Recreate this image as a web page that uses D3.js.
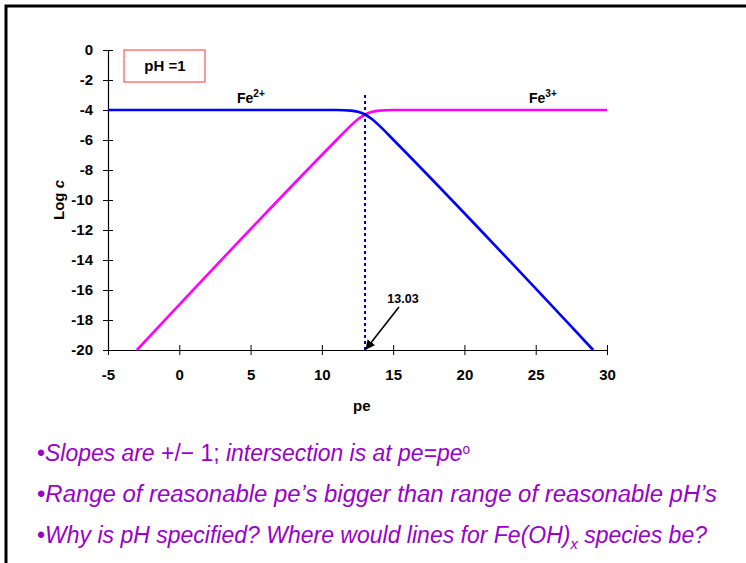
<!DOCTYPE html>
<html><head><meta charset="utf-8">
<script src="https://cdn.jsdelivr.net/npm/d3@7"></script>
<style>
html,body{margin:0;padding:0;background:#fff;}
svg{display:block;font-family:Arial,"Liberation Sans",sans-serif;}
</style></head>
<body>
<div id="chart"></div>
<script>
// ---- data ----
const fe2pe  = [-5, 11.03, 12.03, 12.53, 13.03, 13.53, 14.03, 15.03, 29.03];
const fe2log = [-4, -4.0, -4.04, -4.12, -4.30, -4.62, -5.04, -6.0, -20];
const fe3pe  = [-2.97, 11.03, 12.03, 12.53, 13.03, 13.53, 14.03, 15.03, 30];
const fe3log = [-20, -6.0, -5.04, -4.62, -4.30, -4.12, -4.04, -4.0, -4];
const peIntersect = 13.03;
const xTicks = [-5, 0, 5, 10, 15, 20, 25, 30];
const yTicks = [0, -2, -4, -6, -8, -10, -12, -14, -16, -18, -20];

const W = 746, H = 563;
const FONT = "Arial, 'Liberation Sans', sans-serif";
const svg = d3.select("#chart").append("svg").attr("width", W).attr("height", H);

// frame
svg.append("rect").attr("x", 6).attr("y", 6).attr("width", 800).attr("height", 600)
  .attr("fill", "none").attr("stroke", "#000").attr("stroke-width", 3);

const x = d3.scaleLinear().domain([-5, 30]).range([108, 607]);
const y = d3.scaleLinear().domain([-20, 0]).range([350, 50]);

// x axis
const gx = svg.append("g").attr("transform", `translate(0,${y(-20)})`)
  .call(d3.axisBottom(x).tickValues(xTicks).tickSizeInner(5).tickSizeOuter(0).tickPadding(14));
gx.selectAll(".tick line").attr("y1", -5).attr("y2", 5);
// y axis
const gy = svg.append("g").attr("transform", `translate(${x(-5)},0)`)
  .call(d3.axisLeft(y).tickValues(yTicks).tickSizeInner(5).tickSizeOuter(0).tickPadding(10));
gy.selectAll(".tick line").attr("x1", -5).attr("x2", 5);
[gx, gy].forEach(g => {
  g.attr("font-size", 15).attr("font-family", FONT);
  g.selectAll("path.domain").attr("stroke", "#000").attr("stroke-width", 1.2);
  g.selectAll(".tick line").attr("stroke", "#000").attr("stroke-width", 1);
  g.selectAll("text").attr("font-size", 15).attr("font-weight", "bold").attr("fill", "#000")
    .text(d => d < 0 ? "-" + Math.abs(d) : String(d));
});

// axis titles
svg.append("text").attr("x", x(12.8)).attr("y", 411).attr("text-anchor", "middle")
  .attr("font-size", 15).attr("font-weight", "bold").text("pe");
const yl = svg.append("text").attr("transform", `translate(64,${y(-10)}) rotate(-90)`)
  .attr("text-anchor", "middle").attr("font-size", 15).attr("font-weight", "bold");
yl.append("tspan").text("Log ");
yl.append("tspan").attr("font-style", "italic").text("c");

// lines
const line = d3.line().x(d => x(d[0])).y(d => y(d[1])).curve(d3.curveMonotoneX);
svg.append("path").datum(d3.zip(fe3pe, fe3log)).attr("d", line)
  .attr("fill", "none").attr("stroke", "#ff00ff").attr("stroke-width", 2.6);
svg.append("path").datum(d3.zip(fe2pe, fe2log)).attr("d", line)
  .attr("fill", "none").attr("stroke", "#0000ff").attr("stroke-width", 2.6);

// dotted vertical
svg.append("line").attr("x1", x(peIntersect)).attr("x2", x(peIntersect))
  .attr("y1", 95).attr("y2", y(-20))
  .attr("stroke", "#000080").attr("stroke-width", 2).attr("stroke-dasharray", "3,3");

// arrow annotation
svg.append("defs").append("marker").attr("id", "ah").attr("viewBox", "0 0 10 10")
  .attr("refX", 9).attr("refY", 5).attr("markerWidth", 6).attr("markerHeight", 6)
  .attr("orient", "auto").append("path").attr("d", "M0,0L10,5L0,10z").attr("fill", "#000");
svg.append("line").attr("x1", 399).attr("y1", 307).attr("x2", x(peIntersect) + 1).attr("y2", y(-20) - 1)
  .attr("stroke", "#000").attr("stroke-width", 1.6).attr("marker-end", "url(#ah)");
svg.append("text").attr("x", 403).attr("y", 303).attr("text-anchor", "middle")
  .attr("font-size", 12.5).attr("font-weight", "bold").text(String(peIntersect));

// pH box
svg.append("rect").attr("x", 124).attr("y", 50).attr("width", 81).attr("height", 32)
  .attr("fill", "#fff").attr("stroke", "#ff5555").attr("stroke-width", 1.2);
svg.append("text").attr("x", 165).attr("y", 71).attr("text-anchor", "middle")
  .attr("font-size", 15).attr("font-weight", "bold").text("pH =1");

// species labels
function species(px, sup) {
  const t = svg.append("text").attr("x", px).attr("y", 103).attr("font-size", 14).attr("font-weight", "bold");
  t.append("tspan").text("Fe");
  t.append("tspan").attr("dy", -6).attr("font-size", 10).text(sup);
}
species(237, "2+");
species(529, "3+");

// bullet text
const purple = "#9900cc";
function bline(yy, len) {
  return svg.append("text").attr("x", 37).attr("y", yy).attr("font-size", 23.5)
    .attr("font-style", "italic").attr("fill", purple)
    .attr("textLength", len).attr("lengthAdjust", "spacingAndGlyphs");
}
const l1 = bline(461, 433);
l1.append("tspan").attr("font-style", "normal").text("•");
l1.append("tspan").text("Slopes are ");
l1.append("tspan").attr("font-style", "normal").text("+/− 1; ");
l1.append("tspan").text("intersection is at pe=pe");
l1.append("tspan").attr("dy", -7).attr("font-size", 14).attr("font-style", "normal").text("o");
const l2 = bline(502, 680);
l2.append("tspan").attr("font-style", "normal").text("•");
l2.append("tspan").text("Range of reasonable pe’s bigger than range of reasonable pH’s");
const l3 = bline(543, 670);
l3.append("tspan").attr("font-style", "normal").text("•");
l3.append("tspan").text("Why is pH specified? Where would lines for Fe(OH)");
l3.append("tspan").attr("dy", 6).attr("font-size", 15).text("x");
l3.append("tspan").attr("dy", -6).text(" species be?");
</script>
</body></html>
